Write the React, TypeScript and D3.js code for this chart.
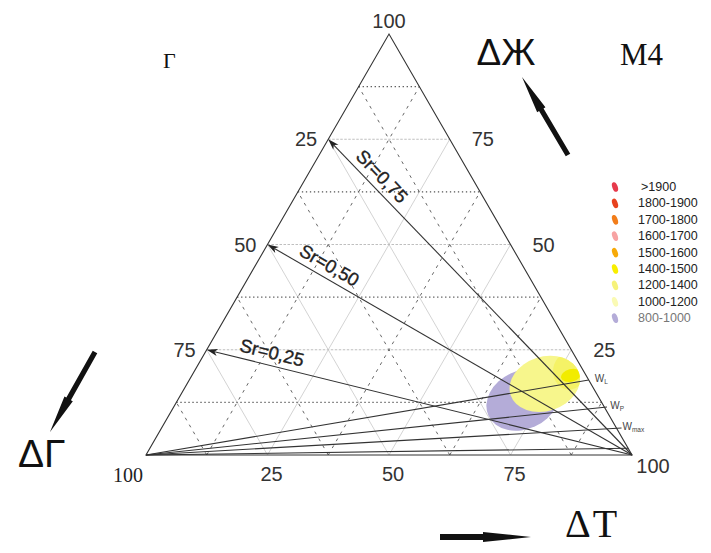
import React from "react";
import * as d3 from "d3";

const WIDTH = 711;
const HEIGHT = 553;

// ternary tick values
const axisTicks = [25, 50, 75];
const majorGrid = [25, 50, 75];
const minorGrid = [12.5, 37.5, 62.5, 87.5];

// degree of saturation lines
const srValues = [0.25, 0.5, 0.75];
const srLabels = ["Sr=0,25", "Sr=0,50", "Sr=0,75"];

// moisture lines from the Г vertex: end points (Ж, Г)
const wSubscripts = ["L", "P", "max", ""];
const wEndZh = [17.8, 11.4, 6.4, 1.6];
const wEndG = [0, -0.55, -1.05, 0];

// legend
const legendLabels = [">1900", "1800-1900", "1700-1800", "1600-1700", "1500-1600", "1400-1500", "1200-1400", "1000-1200", "800-1000"];
const legendColors = ["#e63a4c", "#e8421e", "#f27d1a", "#f7a3a3", "#f7aa08", "#f8ee00", "#f6f27a", "#fafab4", "#b4acd8"];

// density zones (ternary centre T, Ж; radii in % of side)
const zoneT = [71.0, 73.6, 77.1, 78.0];
const zoneZh = [13.1, 16.9, 19.9, 18.9];
const zoneRx = [7.8, 7.4, 3.3, 2.1];
const zoneRy = [6.0, 5.6, 3.8, 1.3];
const zoneAngle = [-25, -18, 0, -15];
const zoneColor = ["#b4acd8", "#f7f68c", "#f5f266", "#f2ec00"];

const xScale = d3.scaleLinear().domain([0, 100]).range([146, 632]);
const yScale = d3.scaleLinear().domain([0, 100]).range([455, 34]);
const pt = (t: number, zh: number): [number, number] => [xScale(t + zh / 2), yScale(zh)];
const unit = (r: number) => xScale(r) - xScale(0);

const SANS = "'Liberation Sans', Arial, sans-serif";
const SERIF = "'Liberation Serif', 'Times New Roman', serif";

function arrowPoly(x1: number, y1: number, x2: number, y2: number, sh: number, hl: number, hh: number) {
  const dx = x2 - x1, dy = y2 - y1, L = Math.hypot(dx, dy);
  const ux = dx / L, uy = dy / L, nx = -uy, ny = ux;
  const bx = x2 - ux * hl, by = y2 - uy * hl;
  const p = [
    [x1 + nx * sh, y1 + ny * sh],
    [bx + nx * sh, by + ny * sh],
    [bx + nx * hh, by + ny * hh],
    [x2, y2],
    [bx - nx * hh, by - ny * hh],
    [bx - nx * sh, by - ny * sh],
    [x1 - nx * sh, y1 - ny * sh],
  ];
  return p.map((q) => q.join(",")).join(" ");
}

function zoneEllipse(i: number, key: string) {
  const [cx, cy] = pt(zoneT[i], zoneZh[i]);
  return (
    <ellipse key={key} cx={0} cy={0} rx={unit(zoneRx[i])} ry={unit(zoneRy[i])}
      transform={`translate(${cx},${cy}) rotate(${zoneAngle[i]})`} fill={zoneColor[i]} />
  );
}

export default function App() {
  const line = d3.line();
  const grid: JSX.Element[] = [];
  const addGrid = (v: number, major: boolean) => {
    const segs: [[number, number], [number, number], boolean][] = [
      [pt(v, 0), pt(v, 100 - v), false],
      [pt(0, v), pt(100 - v, v), true],
      [pt(100 - v, 0), pt(0, 100 - v), false],
    ];
    segs.forEach(([a, b, horiz], i) => {
      let stroke = "#c8c8c8", dash = "none", w = 0.8;
      if (major && horiz) { stroke = "#b8b8b8"; dash = "2.5,1.5"; w = 0.9; }
      if (!major && horiz) { stroke = "#555"; dash = "1.3,2.7"; w = 1.1; }
      if (!major && !horiz) { stroke = "#666"; dash = "3,5"; w = 1; }
      grid.push(
        <path key={`g${v}-${i}`} d={line([a, b]) || ""} stroke={stroke} strokeWidth={w} strokeDasharray={dash} fill="none" />
      );
    });
  };
  majorGrid.forEach((v) => addGrid(v, true));
  minorGrid.forEach((v) => addGrid(v, false));

  const vT = pt(100, 0), vZ = pt(0, 100), vG = pt(0, 0);
  const [ycx, ycy] = pt(zoneT[1], zoneZh[1]);

  return (
    <svg width={WIDTH} height={HEIGHT} style={{ position: "absolute", left: 0, top: 0, background: "#fff" }}>
      <defs>
        <clipPath id="yellowClip">
          <ellipse cx={0} cy={0} rx={unit(zoneRx[1])} ry={unit(zoneRy[1])}
            transform={`translate(${ycx},${ycy}) rotate(${zoneAngle[1]})`} />
        </clipPath>
      </defs>
      {grid}
      {/* zones */}
      {zoneEllipse(0, "z0")}
      {zoneEllipse(1, "z1")}
      <g clipPath="url(#yellowClip)">
        {zoneEllipse(2, "z2")}
        {zoneEllipse(3, "z3")}
      </g>
      {/* triangle */}
      <path d={(line([vG, vT, vZ]) || "") + "Z"} fill="none" stroke="#333" strokeWidth={1.1} />
      {/* Sr lines */}
      {srValues.map((s, i) => {
        const a = pt(0, 100 * s);
        const b = vT;
        const dx = b[0] - a[0], dy = b[1] - a[1], L = Math.hypot(dx, dy);
        const ux = dx / L, uy = dy / L, nx = uy, ny = -ux;
        const ang = (Math.atan2(dy, dx) * 180) / Math.PI;
        const hx = a[0] + ux * 11, hy = a[1] + uy * 11;
        const tx = a[0] + ux * 64 + nx * 13, ty = a[1] + uy * 64 + ny * 13;
        return (
          <g key={`sr${i}`}>
            <path d={line([[hx - ux * 3, hy - uy * 3], b]) || ""} stroke="#333" strokeWidth={1.1} fill="none" />
            <polygon points={`${a[0]},${a[1]} ${hx - nx * 3.6},${hy - ny * 3.6} ${hx - ux * 3},${hy - uy * 3} ${hx + nx * 3.6},${hy + ny * 3.6}`} fill="#222" />
            <text x={tx} y={ty} transform={`rotate(${ang},${tx},${ty})`} textAnchor="middle" dominantBaseline="central"
              fontFamily={SANS} fontSize={18.5} fill="#222" stroke="#222" strokeWidth={0.35}>{srLabels[i]}</text>
          </g>
        );
      })}
      {/* w lines */}
      {wEndZh.map((zh, i) => {
        const t = 100 - zh - wEndG[i];
        const e = pt(t, zh);
        const edgeX = pt(100 - zh, zh)[0];
        return (
          <g key={`w${i}`}>
            <path d={line([vG, e]) || ""} stroke="#333" strokeWidth={1.1} fill="none" />
            {wSubscripts[i] && (
              <text x={edgeX + 6} y={e[1] + 2} fontFamily={SANS} fontSize={10} fill="#444">
                W<tspan fontSize={6.5} dy={1.5}>{wSubscripts[i]}</tspan>
              </text>
            )}
          </g>
        );
      })}
      {/* tick labels */}
      {axisTicks.map((v) => {
        const [lx, ly] = pt(0, 100 - v);
        const [rx, ry] = pt(100 - v, v);
        const [bx, by] = pt(v, 0);
        return (
          <g key={`t${v}`} fontFamily={SANS} fontSize={20} fill="#333">
            <text x={lx - 11} y={ly} textAnchor="end" dominantBaseline="central">{v}</text>
            <text x={rx + 22} y={ry} textAnchor="start" dominantBaseline="central">{v}</text>
            <text x={bx + 4} y={by + 26} textAnchor="middle">{v}</text>
          </g>
        );
      })}
      <text x={vZ[0]} y={vZ[1] - 6} textAnchor="middle" fontFamily={SANS} fontSize={20} fill="#333">100</text>
      <text x={vT[0] + 21} y={vT[1] + 18} textAnchor="middle" fontFamily={SANS} fontSize={20} fill="#333">100</text>
      <text x={vG[0] - 18} y={vG[1] + 27} textAnchor="middle" fontFamily={SERIF} fontSize={20} fill="#222">100</text>
      {/* legend */}
      {legendLabels.map((lab, i) => {
        const y = 187 + i * 16.4;
        return (
          <g key={`l${i}`}>
            <ellipse cx={0} cy={0} rx={2.7} ry={5} transform={`translate(615,${y}) rotate(-20)`} fill={legendColors[i]} />
            <text x={i === 0 ? 641 : 638} y={y} dominantBaseline="central" fontFamily={SANS} fontSize={12.5}
              fill={i === legendLabels.length - 1 ? "#777" : "#222"}>{lab}</text>
          </g>
        );
      })}
      {/* titles and arrows */}
      <text x={163} y={68} fontFamily={SERIF} fontSize={22} fill="#111">Г</text>
      <text x={506} y={65} textAnchor="middle" fontFamily={SANS} fontSize={37} fill="#111">ΔЖ</text>
      <text x={620} y={65} fontFamily={SERIF} fontSize={31} fill="#111">М4</text>
      <text x={18} y={467} fontFamily={SANS} fontSize={39} fill="#111">ΔГ</text>
      <text x={565} y={537} fontFamily={SERIF} fontSize={40} fill="#111" letterSpacing={2}>ΔT</text>
      <polygon points={arrowPoly(568, 155, 522, 77, 2.6, 38, 4.8)} fill="#111" />
      <polygon points={arrowPoly(95, 352, 50, 432, 2.6, 38, 4.8)} fill="#111" />
      <polygon points={arrowPoly(440, 537, 531, 537, 3, 48, 5)} fill="#111" />
    </svg>
  );
}
